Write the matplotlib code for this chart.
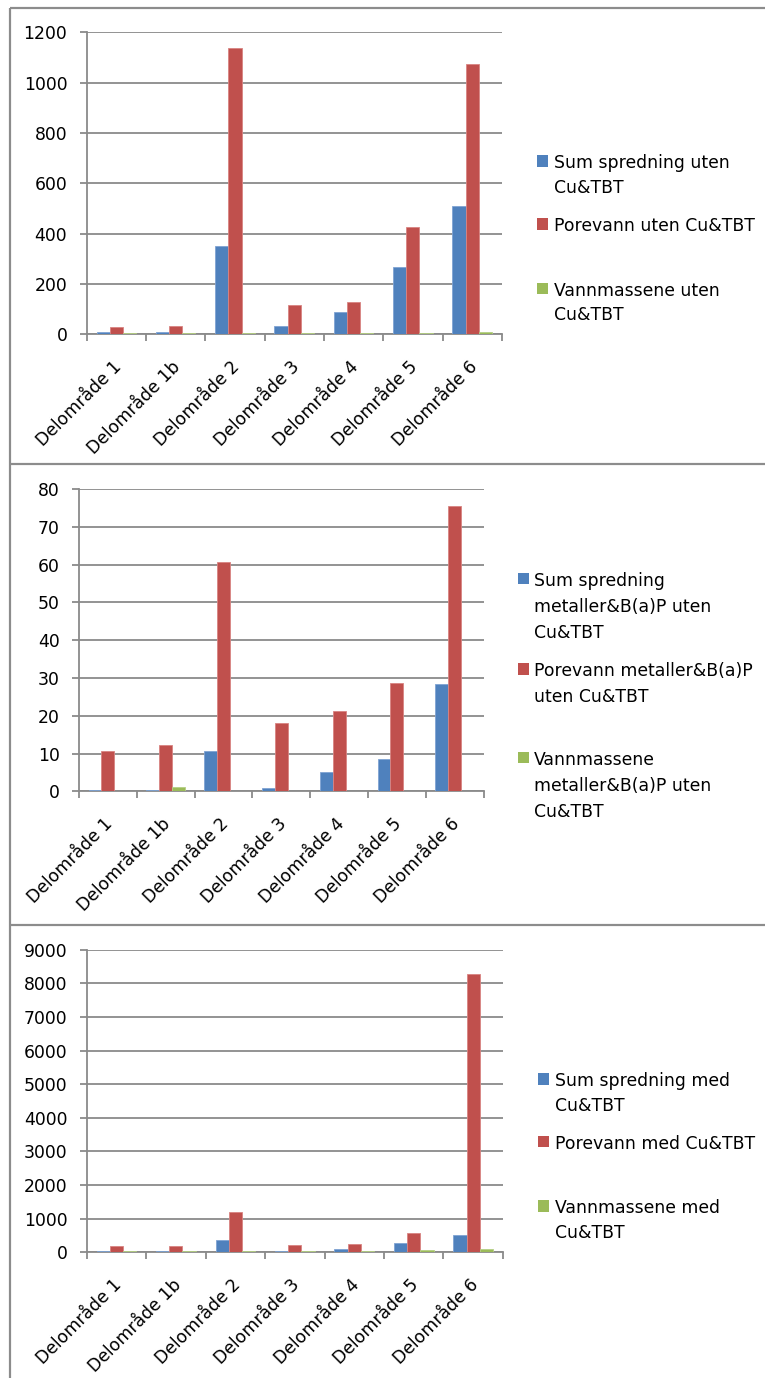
import numpy as np
import matplotlib
matplotlib.use("Agg")
import matplotlib.pyplot as plt
from matplotlib.lines import Line2D
from matplotlib.patches import Rectangle
from matplotlib.transforms import ScaledTranslation

# ---- data -------------------------------------------------------------
categories = ["Delområde 1", "Delområde 1b", "Delområde 2", "Delområde 3",
              "Delområde 4", "Delområde 5", "Delområde 6"]

# chart 1: without Cu & TBT
sum_uten = [9, 9, 352, 33, 89, 267, 511]
pore_uten = [29, 33, 1138, 118, 130, 425, 1073]
vann_uten = [5, 5, 5, 5, 5, 5, 9]
labels_uten = ["Sum spredning uten\nCu&TBT",
               "Porevann uten Cu&TBT",
               "Vannmassene uten\nCu&TBT"]

# chart 2: metals & B(a)P without Cu & TBT
sum_met = [0.4, 0.4, 10.6, 0.9, 5.1, 8.6, 28.4]
pore_met = [10.6, 12.2, 60.7, 18.1, 21.3, 28.7, 75.6]
vann_met = [0.0, 1.14, 0.0, 0.0, 0.0, 0.0, 0.0]
labels_met = ["Sum spredning\nmetaller&B(a)P uten\nCu&TBT",
              "Porevann metaller&B(a)P\nuten Cu&TBT",
              "Vannmassene\nmetaller&B(a)P uten\nCu&TBT"]

# chart 3: with Cu & TBT
sum_med = [45, 45, 357, 45, 95, 280, 516]
pore_med = [185, 185, 1210, 208, 248, 576, 8285]
vann_med = [45, 45, 45, 45, 45, 65, 95]
labels_med = ["Sum spredning med\nCu&TBT",
              "Porevann med Cu&TBT",
              "Vannmassene med\nCu&TBT"]

y_max = [1200, 80, 9000]
y_step = [200, 10, 1000]

# ---- style ------------------------------------------------------------
W, H = 765, 1378
DPI = 100
FS = 12.4
colors = ["#4F81BD", "#C0504D", "#9BBB59"]
edges = ["#7FA3D3", "#D98482", "#B5CF85"]
grid_c = "#8A8A8A"
frame_c = "#8C8C8C"

plt.rcParams["font.family"] = ["DejaVu Sans"]
plt.rcParams["font.size"] = FS

fig = plt.figure(figsize=(W / DPI, H / DPI), dpi=DPI)
fig.patch.set_facecolor("white")


def fx(x):
    return x / W


def fy(y):
    return 1 - y / H


def add_axes_px(left, right, top, bottom):
    return fig.add_axes([fx(left), fy(bottom), (right - left) / W, (bottom - top) / H])


# plot areas in pixel coordinates (left, right, top, bottom)
boxes = [(86.7, 501.8, 32.3, 334.3),
         (79.0, 483.6, 489.0, 791.5),
         (86.7, 502.9, 949.7, 1252.3)]

series_sets = [(sum_uten, pore_uten, vann_uten),
               (sum_met, pore_met, vann_met),
               (sum_med, pore_med, vann_med)]

# legend geometry per chart: marker left x, text x, first-line centre y of each entry
legend_geo = [
    (536.6, 553.7, [161.0, 224.0, 288.7], 24.8),
    (518.0, 534.0, [578.7, 669.0, 757.7], 26.0),
    (538.0, 554.6, [1079.0, 1141.7, 1206.0], 25.0),
]
legend_labels = [labels_uten, labels_met, labels_med]

x = np.arange(len(categories))
bw = 1 / 4.5
offsets = [-bw, 0, bw]

for box, series, ymax, ystep, geo, labels in zip(boxes, series_sets, y_max, y_step,
                                                 legend_geo, legend_labels):
    ax = add_axes_px(*box)
    for vals, off, c, ec in zip(series, offsets, colors, edges):
        ax.bar(x + off, vals, width=bw, color=c, edgecolor=ec, linewidth=0.6, zorder=3)

    ax.set_xlim(-0.5, len(categories) - 0.5)
    ax.set_ylim(0, ymax)
    ax.set_yticks(np.arange(0, ymax + ystep / 2, ystep))
    ax.yaxis.grid(True, color=grid_c, linewidth=1.3, zorder=0)
    ax.set_axisbelow(True)

    for s in ("top", "right"):
        ax.spines[s].set_visible(False)
    for s in ("left", "bottom"):
        ax.spines[s].set_color(grid_c)
        ax.spines[s].set_linewidth(1.3)

    # category boundaries carry tick marks, centres carry labels
    ax.set_xticks(np.arange(-0.5, len(categories), 1.0))
    ax.set_xticklabels([])
    ax.set_xticks(x, minor=True)
    ax.set_xticklabels(categories, minor=True, rotation=45, ha="right", va="top",
                       rotation_mode="anchor")
    ax.tick_params(axis="x", which="major", direction="out", length=5, width=1.3,
                   color=grid_c)
    ax.tick_params(axis="x", which="minor", length=0, pad=17, labelsize=FS)
    ax.tick_params(axis="y", direction="out", length=5, width=1.3, color=grid_c,
                   pad=9, labelsize=FS)
    shift = ScaledTranslation(-4 / DPI, 0, fig.dpi_scale_trans)
    for lab in ax.get_xticklabels(minor=True):
        lab.set_transform(lab.get_transform() + shift)

    # legend
    mx, tx, ys, lh = geo
    for lab, y0, c in zip(labels, ys, colors):
        fig.patches.append(Rectangle((fx(mx), fy(y0 + 5.6)), 11.2 / W, 11.2 / H,
                                     transform=fig.transFigure, facecolor=c,
                                     edgecolor="none"))
        for i, line in enumerate(lab.split("\n")):
            fig.text(fx(tx), fy(y0 + i * lh), line, ha="left", va="center_baseline",
                     fontsize=FS, color="black")

# panel frames
lw_frame = 2.2 * 72 / DPI
frame_lines = [
    ([9.5, W], [7.5, 7.5]),
    ([9.5, 9.5], [7.5, H]),
    ([9.5, W], [464.5, 464.5]),
    ([9.5, W], [924.5, 924.5]),
]
for xs, ys in frame_lines:
    fig.add_artist(Line2D([fx(v) for v in xs], [fy(v) for v in ys],
                          transform=fig.transFigure, color=frame_c,
                          linewidth=lw_frame, solid_capstyle="butt"))

fig.savefig("out.png", dpi=DPI, facecolor="white")
